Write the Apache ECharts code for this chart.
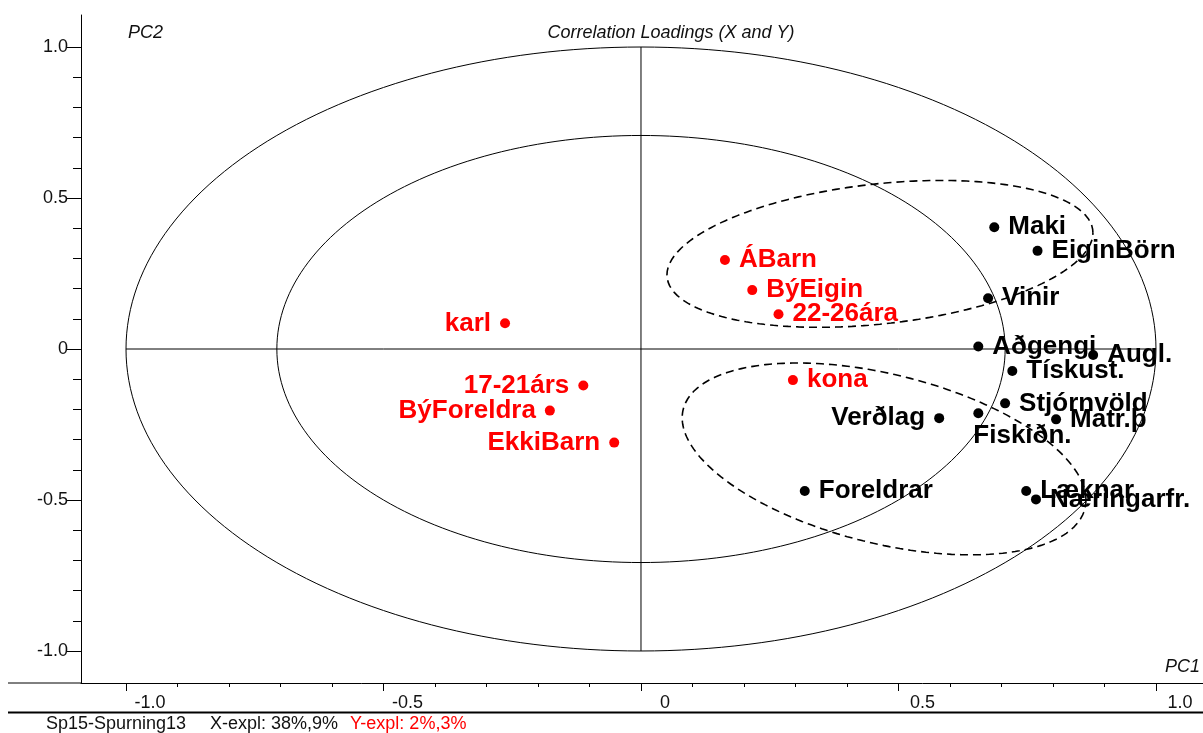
<!DOCTYPE html>
<html>
<head>
<meta charset="utf-8">
<script src="https://cdn.jsdelivr.net/npm/echarts@6/dist/echarts.min.js"></script>
<style>
  html, body { margin: 0; padding: 0; background: #fff; }
  #chart { width: 1203px; height: 733px; }
</style>
</head>
<body>
<div id="chart"></div>
<script>
// Y-variables (red)
const yNames = ['ÁBarn', 'BýEigin', '22-26ára', 'karl', 'kona', '17-21árs', 'BýForeldra', 'EkkiBarn'];
const yPc1 = [0.163, 0.216, 0.267, -0.264, 0.295, -0.112, -0.177, -0.052];
const yPc2 = [0.295, 0.195, 0.115, 0.085, -0.103, -0.121, -0.204, -0.310];

// X-variables (black)
const xNames = ['Maki', 'EiginBörn', 'Vinir', 'Aðgengi', 'Augl.', 'Tískust.', 'Stjórnvöld', 'Matr.þ', 'Verðlag', 'Fiskiðn.', 'Foreldrar', 'Læknar', 'Næringarfr.'];
const xPc1 = [0.686, 0.770, 0.674, 0.655, 0.878, 0.721, 0.707, 0.806, 0.579, 0.655, 0.318, 0.748, 0.767];
const xPc2 = [0.403, 0.325, 0.168, 0.008, -0.020, -0.073, -0.180, -0.233, -0.229, -0.213, -0.470, -0.470, -0.498];

// tick labels
const majorTicks = [-1, -0.5, 0, 0.5, 1];
const minorTicks = [-0.9, -0.8, -0.7, -0.6, -0.4, -0.3, -0.2, -0.1, 0.1, 0.2, 0.3, 0.4, 0.6, 0.7, 0.8, 0.9];

// where each label sits (default: right of the dot)
const labelSide = { 'karl': 'left', '17-21árs': 'left', 'BýForeldra': 'left', 'EkkiBarn': 'left', 'Verðlag': 'left', 'Fiskiðn.': 'below' };

// hand drawn groupings: centre + two conjugate half-axes, in data units
const upperGroup = { cx: 0.464, cy: 0.315, ux: 0.4136, uy: 0.0695, vx: 0, vy: 0.233 };
const lowerGroup = { cx: 0.472, cy: -0.364, ux: 0.392, uy: -0.136, vx: 0, vy: 0.287 };

const FONT = '"Liberation Sans", Arial, sans-serif';

function ellipse (g) {
  const pts = [];
  for (let i = 0; i <= 240; i++) {
    const t = i / 240 * Math.PI * 2;
    pts.push([g.cx + g.ux * Math.cos(t) + g.vx * Math.sin(t), g.cy + g.uy * Math.cos(t) + g.vy * Math.sin(t)]);
  }
  return pts;
}
function circle (r) {
  return ellipse({ cx: 0, cy: 0, ux: r, uy: 0, vx: 0, vy: r });
}
function tickFmt (v) {
  return Math.abs(v) < 1e-9 ? '0' : v.toFixed(1);
}

function points (names, xs, ys) {
  return names.map((n, i) => {
    const side = labelSide[n];
    const item = { name: n, value: [xs[i], ys[i]] };
    if (side === 'left') item.label = { position: 'left' };
    if (side === 'below') item.label = { position: 'bottom', align: 'left', distance: 5, offset: [-5, 0] };
    return item;
  });
}

function guideLine (data, extra) {
  return Object.assign({
    type: 'line',
    data: data,
    showSymbol: false,
    symbol: 'none',
    silent: true,
    animation: false,
    lineStyle: { color: '#000', width: 1 },
    z: 1
  }, extra || {});
}

function scatter (names, xs, ys, color) {
  return {
    type: 'scatter',
    data: points(names, xs, ys),
    symbol: 'circle',
    symbolSize: 10,
    itemStyle: { color: color, opacity: 1 },
    animation: false,
    z: 5,
    label: {
      show: true,
      position: 'right',
      distance: 9,
      formatter: '{b}',
      color: color,
      opacity: 1,
      fontSize: 26,
      fontWeight: 'bold',
      fontFamily: FONT
    }
  };
}

const myChart = echarts.init(document.getElementById('chart'));
myChart.setOption({
  backgroundColor: '#fff',
  animation: false,
  grid: { left: 81, right: 0, top: 15, bottom: 50, outerBoundsMode: 'none' },
  xAxis: [{
    type: 'value',
    min: -1.0874,
    max: 1.0913,
    position: 'bottom',
    splitLine: { show: false },
    axisLine: { onZero: false, lineStyle: { color: '#000', width: 1 } },
    axisTick: { customValues: majorTicks, length: 8, lineStyle: { color: '#000' } },
    axisLabel: {
      customValues: majorTicks,
      formatter: tickFmt,
      margin: 11,
      padding: [0, 0, 0, 48],
      color: '#111',
      fontSize: 18,
      fontFamily: FONT
    }
  }, {
    type: 'value',
    min: -1.0874,
    max: 1.0913,
    position: 'bottom',
    splitLine: { show: false },
    axisLine: { show: false, onZero: false },
    axisTick: { customValues: minorTicks, length: 4, lineStyle: { color: '#000' } },
    axisLabel: { show: false }
  }],
  yAxis: [{
    type: 'value',
    min: -1.106,
    max: 1.106,
    position: 'left',
    splitLine: { show: false },
    axisLine: { onZero: false, lineStyle: { color: '#000', width: 1 } },
    axisTick: { customValues: majorTicks, length: 14, lineStyle: { color: '#000' } },
    axisLabel: {
      customValues: majorTicks,
      formatter: tickFmt,
      margin: 13,
      color: '#111',
      fontSize: 18,
      fontFamily: FONT
    }
  }, {
    type: 'value',
    min: -1.106,
    max: 1.106,
    position: 'left',
    splitLine: { show: false },
    axisLine: { show: false, onZero: false },
    axisTick: { customValues: minorTicks, length: 8, lineStyle: { color: '#000' } },
    axisLabel: { show: false }
  }],
  graphic: [
    { type: 'line', shape: { x1: 8, y1: 683, x2: 81, y2: 683 }, style: { stroke: '#000', lineWidth: 1 } },
    { type: 'line', shape: { x1: 8, y1: 712.5, x2: 1203, y2: 712.5 }, style: { stroke: '#000', lineWidth: 2 } },
    { type: 'text', x: 671, y: 33, style: { text: 'Correlation Loadings (X and Y)', fill: '#111', font: 'italic 18px ' + FONT, align: 'center', verticalAlign: 'middle', textAlign: 'center', textVerticalAlign: 'middle' } },
    { type: 'text', x: 128, y: 33, style: { text: 'PC2', fill: '#111', font: 'italic 18px ' + FONT, align: 'left', verticalAlign: 'middle', textAlign: 'left', textVerticalAlign: 'middle' } },
    { type: 'text', x: 1200, y: 667, style: { text: 'PC1', fill: '#111', font: 'italic 18px ' + FONT, align: 'right', verticalAlign: 'middle', textAlign: 'right', textVerticalAlign: 'middle' } },
    { type: 'text', x: 46, y: 724, style: { text: 'Sp15-Spurning13', fill: '#111', font: '18px ' + FONT, align: 'left', verticalAlign: 'middle', textAlign: 'left', textVerticalAlign: 'middle' } },
    { type: 'text', x: 210, y: 724, style: { text: 'X-expl: 38%,9%', fill: '#111', font: '18px ' + FONT, align: 'left', verticalAlign: 'middle', textAlign: 'left', textVerticalAlign: 'middle' } },
    { type: 'text', x: 350, y: 724, style: { text: 'Y-expl: 2%,3%', fill: '#ff0000', font: '18px ' + FONT, align: 'left', verticalAlign: 'middle', textAlign: 'left', textVerticalAlign: 'middle' } }
  ],
  series: [
    guideLine(circle(1)),
    guideLine(circle(Math.SQRT1_2)),
    guideLine([[-1, 0], [1, 0]]),
    guideLine([[0, -1], [0, 1]]),
    guideLine(ellipse(upperGroup), { lineStyle: { color: '#000', width: 1.6, type: [8, 5] } }),
    guideLine(ellipse(lowerGroup), { lineStyle: { color: '#000', width: 1.6, type: [8, 5] } }),
    scatter(xNames, xPc1, xPc2, '#000'),
    scatter(yNames, yPc1, yPc2, '#ff0000')
  ]
});
</script>
</body>
</html>
